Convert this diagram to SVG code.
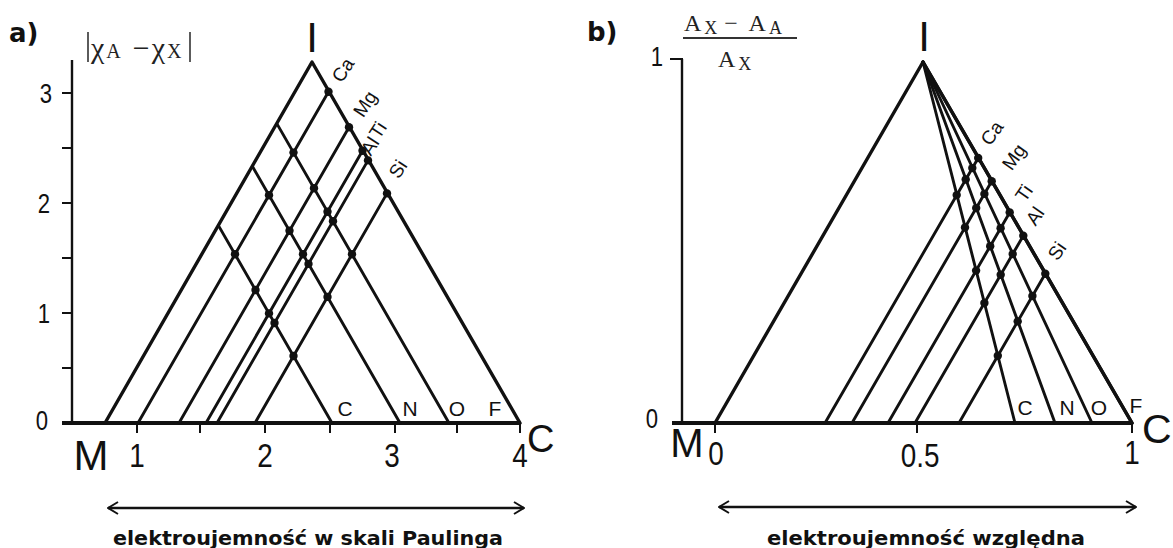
<svg xmlns="http://www.w3.org/2000/svg" width="1173" height="548" viewBox="0 0 1173 548">
<defs>
<style>
.ln{stroke:#111;stroke-width:2.9;fill:none;stroke-linecap:round}
.edge{stroke:#111;stroke-width:3.4;fill:none;stroke-linecap:round;stroke-linejoin:round}
.ax{stroke:#111;stroke-width:2.4;fill:none}
.base{stroke:#111;stroke-width:3.8;fill:none}
.tk{stroke:#111;stroke-width:2}
.dot{fill:#111}
.sans{font-family:"Liberation Sans",Arial,sans-serif;fill:#111}
.serif{font-family:"Liberation Serif","Times New Roman",serif;fill:#222}
.num{font-family:"Liberation Sans",Arial,sans-serif;fill:#111;font-size:34px;text-anchor:middle}
.yn{font-family:"Liberation Sans",Arial,sans-serif;fill:#111;font-size:27px;text-anchor:middle}
.el{font-family:"Liberation Sans",Arial,sans-serif;fill:#111;font-size:19px;text-anchor:middle;dominant-baseline:central}
.an{font-family:"Liberation Sans",Arial,sans-serif;fill:#111;font-size:21px;text-anchor:middle}
.cap{font-family:"DejaVu Sans","Liberation Sans",sans-serif;font-weight:bold;fill:#111;font-size:19px;text-anchor:middle}
.lab{font-family:"DejaVu Sans","Liberation Sans",sans-serif;font-weight:bold;fill:#111;font-size:26px}
.arr{stroke:#111;stroke-width:2.4;fill:none}
</style>
<marker id="ah" viewBox="0 0 12 14" refX="11" refY="7" markerWidth="12" markerHeight="14" markerUnits="userSpaceOnUse" orient="auto-start-reverse">
<path d="M1,1 L11,7 L1,13" fill="none" stroke="#111" stroke-width="2"/>
</marker>
</defs>
<rect width="1173" height="548" fill="#fff"/>

<!-- ================= PANEL A ================= -->
<g id="panel-a">
<text class="lab" x="9" y="42">a)</text>
<g id="ylabel-a" class="serif">
<line x1="88" y1="32" x2="88" y2="62" stroke="#333" stroke-width="1.6"/>
<text x="91" y="58" font-size="30" letter-spacing="2">χ<tspan font-size="20">A</tspan><tspan dx="10">−χ</tspan><tspan font-size="20">X</tspan></text>
<line x1="190" y1="32" x2="190" y2="62" stroke="#333" stroke-width="1.6"/>
</g>

<g id="axes-a">
<line class="ax" x1="72" y1="60" x2="72" y2="423"/>
<line class="base" x1="62" y1="423" x2="520" y2="423"/>
<g class="tk">
<line x1="62" y1="93" x2="72" y2="93"/>
<line x1="62" y1="148" x2="72" y2="148"/>
<line x1="62" y1="203" x2="72" y2="203"/>
<line x1="62" y1="258" x2="72" y2="258"/>
<line x1="62" y1="313" x2="72" y2="313"/>
<line x1="62" y1="368" x2="72" y2="368"/>
<line x1="137" y1="423" x2="137" y2="433"/>
<line x1="200" y1="423" x2="200" y2="433"/>
<line x1="265" y1="423" x2="265" y2="433"/>
<line x1="330" y1="423" x2="330" y2="433"/>
<line x1="395" y1="423" x2="395" y2="433"/>
<line x1="457" y1="423" x2="457" y2="433"/>
<line x1="520" y1="423" x2="520" y2="433"/>
</g>
<text class="yn" transform="translate(46 103) scale(0.82 1)">3</text>
<text class="yn" transform="translate(44 213) scale(0.82 1)">2</text>
<text class="yn" transform="translate(44 323) scale(0.82 1)">1</text>
<text class="yn" transform="translate(42 430) scale(0.82 1)">0</text>
<text class="sans" x="91" y="470" font-size="42" text-anchor="middle">M</text>
<text class="num" transform="translate(137 467) scale(0.82 1)">1</text>
<text class="num" transform="translate(265 467) scale(0.82 1)">2</text>
<text class="num" transform="translate(392 467) scale(0.82 1)">3</text>
<text class="num" transform="translate(520 467) scale(0.82 1)">4</text>
<text class="sans" x="527" y="452" font-size="38">C</text>
<text class="sans" x="312" y="52" font-size="42" text-anchor="middle">I</text>
</g>

<g id="triangle-a">
<polyline class="edge" points="105,423 312,62 520,423"/>
</g>

<g id="lines-a">
<line class="ln" x1="138" y1="423" x2="328.5" y2="91.7"/>
<line class="ln" x1="179" y1="423" x2="349" y2="127.3"/>
<line class="ln" x1="206" y1="423" x2="362.5" y2="150.8"/>
<line class="ln" x1="217" y1="423" x2="368" y2="160.4"/>
<line class="ln" x1="255" y1="423" x2="387" y2="193.4"/>
<line class="ln" x1="218.5" y1="225.6" x2="332" y2="423"/>
<line class="ln" x1="252.5" y1="166.5" x2="400" y2="423"/>
<line class="ln" x1="277" y1="123.9" x2="449" y2="423"/>
</g>

<g id="dots-a" class="dot">
<circle cx="235" cy="254.3" r="4.2"/><circle cx="255.5" cy="290" r="4.2"/><circle cx="269" cy="313.4" r="4.2"/><circle cx="274.5" cy="323" r="4.2"/><circle cx="293.5" cy="356" r="4.2"/>
<circle cx="269" cy="195.2" r="4.2"/><circle cx="289.5" cy="230.8" r="4.2"/><circle cx="303" cy="254.3" r="4.2"/><circle cx="308.5" cy="263.9" r="4.2"/><circle cx="327.5" cy="296.9" r="4.2"/>
<circle cx="293.5" cy="152.6" r="4.2"/><circle cx="314" cy="188.2" r="4.2"/><circle cx="327.5" cy="211.7" r="4.2"/><circle cx="333" cy="221.3" r="4.2"/><circle cx="352" cy="254.3" r="4.2"/>
<circle cx="328.5" cy="91.7" r="4.2"/><circle cx="349" cy="127.3" r="4.2"/><circle cx="362.5" cy="150.8" r="4.2"/><circle cx="368" cy="160.4" r="4.2"/><circle cx="387" cy="193.4" r="4.2"/>
</g>

<g id="labels-a">
<text class="el" transform="translate(343 70) rotate(-57)">Ca</text>
<text class="el" transform="translate(365 104) rotate(-57)">Mg</text>
<text class="el" transform="translate(378 130) rotate(-57)">Ti</text>
<text class="el" transform="translate(370 146) rotate(-57)">Al</text>
<text class="el" transform="translate(398 169) rotate(-57)">Si</text>
<text class="an" x="345" y="416">C</text>
<text class="an" x="410" y="416">N</text>
<text class="an" x="457" y="416">O</text>
<text class="an" x="495" y="416">F</text>
</g>

<g id="arrow-a">
<line class="arr" x1="108" y1="508" x2="524" y2="508" marker-start="url(#ah)" marker-end="url(#ah)"/>
<text class="cap" x="308" y="545" textLength="390" lengthAdjust="spacingAndGlyphs">elektroujemność w skali Paulinga</text>
</g>
</g>

<!-- ================= PANEL B ================= -->
<g id="panel-b">
<text class="lab" x="587" y="41">b)</text>
<g id="ylabel-b" class="serif">
<text x="684" y="31" font-size="24" letter-spacing="3">A<tspan font-size="18" dy="3">X</tspan><tspan dy="-3" dx="4">− A</tspan><tspan font-size="18" dy="3">A</tspan></text>
<line x1="683" y1="38" x2="797" y2="38" stroke="#333" stroke-width="1.8"/>
<text x="718" y="67" font-size="24" letter-spacing="3">A<tspan font-size="18" dy="3">X</tspan></text>
</g>

<g id="axes-b">
<line class="ax" x1="682" y1="59" x2="682" y2="423"/>
<line class="tk" x1="670" y1="59" x2="683" y2="59"/>
<line class="base" x1="672" y1="423" x2="1132" y2="423"/>
<g class="tk">
<line x1="715" y1="423" x2="715" y2="433"/>
<line x1="917" y1="423" x2="917" y2="433"/>
<line x1="1132" y1="423" x2="1132" y2="433"/>
</g>
<text class="yn" transform="translate(657 66) scale(0.82 1)">1</text>
<text class="yn" transform="translate(652 428) scale(0.82 1)">0</text>
<text class="sans" x="687" y="457" font-size="40" text-anchor="middle">M</text>
<text class="num" transform="translate(716 465) scale(0.82 1)">0</text>
<text class="num" transform="translate(920 467) scale(0.82 1)">0.5</text>
<text class="num" transform="translate(1132 464) scale(0.82 1)">1</text>
<text class="sans" x="1142" y="443" font-size="41">C</text>
<text class="sans" x="924" y="51" font-size="42" text-anchor="middle">I</text>
</g>

<g id="triangle-b">
<polyline class="edge" points="715,423 923,62 1132,423"/>
<line class="edge" x1="923" y1="62" x2="1132" y2="423" stroke-width="4.2"/>
</g>

<g id="lines-b">
<line class="ln" x1="923" y1="62" x2="1015" y2="423"/>
<line class="ln" x1="923" y1="62" x2="1055" y2="423"/>
<line class="ln" x1="923" y1="62" x2="1092" y2="423"/>
<line class="ln" x1="825" y1="423" x2="978.2" y2="158"/>
<line class="ln" x1="852" y1="423" x2="991.7" y2="181.3"/>
<line class="ln" x1="888" y1="423" x2="1009.7" y2="212.4"/>
<line class="ln" x1="915" y1="423" x2="1023.3" y2="235.7"/>
<line class="ln" x1="959" y1="423" x2="1045.3" y2="273.7"/>
</g>

<g id="dots-b" class="dot">
<circle cx="956.7" cy="195.1" r="4.2"/><circle cx="965" cy="227.5" r="4.2"/><circle cx="976.1" cy="270.6" r="4.2"/><circle cx="984.4" cy="303" r="4.2"/><circle cx="997.8" cy="355.8" r="4.2"/>
<circle cx="965.7" cy="179.5" r="4.2"/><circle cx="976.2" cy="208.1" r="4.2"/><circle cx="990.2" cy="246.2" r="4.2"/><circle cx="1000.7" cy="274.8" r="4.2"/><circle cx="1017.7" cy="321.4" r="4.2"/>
<circle cx="972.3" cy="168.1" r="4.2"/><circle cx="984.4" cy="193.9" r="4.2"/><circle cx="1000.6" cy="228.2" r="4.2"/><circle cx="1012.7" cy="254" r="4.2"/><circle cx="1032.4" cy="296" r="4.2"/>
<circle cx="978.2" cy="158" r="4.2"/><circle cx="991.7" cy="181.3" r="4.2"/><circle cx="1009.7" cy="212.4" r="4.2"/><circle cx="1023.3" cy="235.7" r="4.2"/><circle cx="1045.3" cy="273.7" r="4.2"/>
</g>

<g id="labels-b">
<text class="el" transform="translate(992 133) rotate(-55)">Ca</text>
<text class="el" transform="translate(1014 157) rotate(-55)">Mg</text>
<text class="el" transform="translate(1024 193) rotate(-55)">Ti</text>
<text class="el" transform="translate(1035 216) rotate(-55)">Al</text>
<text class="el" transform="translate(1057 251) rotate(-55)">Si</text>
<text class="an" x="1025" y="415">C</text>
<text class="an" x="1067" y="415">N</text>
<text class="an" x="1099" y="415">O</text>
<text class="an" x="1136" y="413">F</text>
</g>

<g id="arrow-b">
<line class="arr" x1="719" y1="507" x2="1136" y2="507" marker-start="url(#ah)" marker-end="url(#ah)"/>
<text class="cap" x="926" y="545" textLength="318" lengthAdjust="spacingAndGlyphs">elektroujemność względna</text>
</g>
</g>
</svg>
